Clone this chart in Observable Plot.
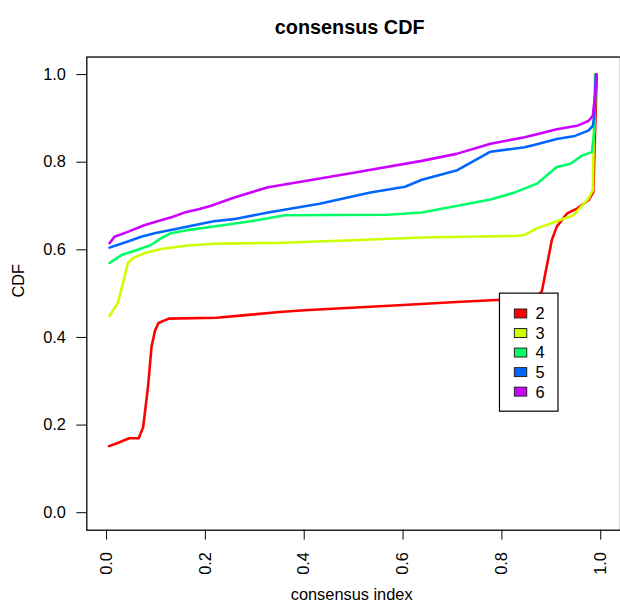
<!DOCTYPE html>
<html>
<head>
<meta charset="utf-8">
<script src="https://cdn.jsdelivr.net/npm/d3@7"></script>
<script src="https://cdn.jsdelivr.net/npm/@observablehq/plot@0.6"></script>
<style>
  html, body { margin: 0; padding: 0; background: #fff; overflow: hidden; }
  #chart { width: 620px; height: 614px; overflow: hidden; }
</style>
</head>
<body>
<div id="chart"></div>
<script>
// ---- data ----
const ks = ["2", "3", "4", "5", "6"];
const colors = ["#FF0000", "#CCFF00", "#00FF66", "#0066FF", "#CC00FF"];
const xTicks = [0, 0.2, 0.4, 0.6, 0.8, 1.0];
const yTicks = [0, 0.2, 0.4, 0.6, 0.8, 1.0];

const cdf2 = [[0.005,0.152],[0.02,0.158],[0.046,0.170],[0.065,0.170],[0.074,0.195],[0.084,0.289],[0.091,0.379],[0.098,0.415],[0.105,0.433],[0.126,0.443],[0.223,0.445],[0.292,0.452],[0.35,0.458],[0.40,0.462],[0.60,0.474],[0.708,0.481],[0.80,0.486],[0.87,0.490],[0.881,0.506],[0.901,0.622],[0.911,0.653],[0.932,0.683],[0.952,0.694],[0.975,0.713],[0.985,0.732],[0.992,1.0]];
const cdf3 = [[0.006,0.449],[0.023,0.479],[0.036,0.536],[0.043,0.570],[0.053,0.581],[0.076,0.592],[0.110,0.602],[0.164,0.610],[0.217,0.614],[0.354,0.616],[0.5,0.622],[0.638,0.628],[0.831,0.632],[0.846,0.634],[0.871,0.649],[0.911,0.665],[0.945,0.679],[0.975,0.717],[0.984,0.736],[0.988,1.0]];
const cdf4 = [[0.006,0.570],[0.030,0.588],[0.063,0.600],[0.090,0.611],[0.110,0.626],[0.130,0.638],[0.164,0.645],[0.217,0.653],[0.292,0.665],[0.361,0.679],[0.569,0.680],[0.638,0.685],[0.708,0.700],[0.777,0.715],[0.826,0.731],[0.871,0.751],[0.891,0.770],[0.911,0.789],[0.938,0.796],[0.962,0.815],[0.982,0.823],[0.987,0.870],[0.99,1.0]];
const cdf5 = [[0.006,0.605],[0.043,0.619],[0.070,0.630],[0.097,0.638],[0.130,0.645],[0.177,0.656],[0.217,0.665],[0.257,0.670],[0.327,0.685],[0.431,0.705],[0.534,0.731],[0.604,0.744],[0.638,0.760],[0.708,0.781],[0.777,0.824],[0.846,0.834],[0.871,0.841],[0.911,0.853],[0.948,0.860],[0.975,0.872],[0.984,0.883],[0.987,0.906],[0.99,1.0]];
const cdf6 = [[0.006,0.615],[0.016,0.630],[0.043,0.641],[0.076,0.656],[0.103,0.665],[0.133,0.675],[0.16,0.686],[0.188,0.693],[0.21,0.700],[0.257,0.719],[0.327,0.743],[0.417,0.760],[0.5,0.776],[0.638,0.803],[0.708,0.819],[0.777,0.842],[0.846,0.857],[0.871,0.864],[0.911,0.875],[0.952,0.883],[0.975,0.894],[0.984,0.906],[0.989,0.958],[0.992,1.0]];

const series = [cdf2, cdf3, cdf4, cdf5, cdf6];
const rows = series.flatMap((s, i) => s.map(([x, y]) => ({k: ks[i], x, y})));

const font = "'Liberation Sans', Arial, Helvetica, sans-serif";

const svg = Plot.plot({
  width: 625,
  height: 614,
  marginLeft: 87,
  marginRight: 0,
  marginTop: 57,
  marginBottom: 80,
  style: {fontFamily: font, fontSize: "16.5px", color: "#000", background: "#fff"},
  x: {domain: [-0.04, 1.04], ticks: xTicks, tickFormat: d => d.toFixed(1), tickSize: 10, tickPadding: 12, tickRotate: -90, label: null},
  y: {domain: [-0.04, 1.04], ticks: yTicks, tickFormat: d => d.toFixed(1), tickSize: 10, tickPadding: 11, label: null},
  color: {domain: ks, range: colors},
  marks: [
    Plot.line(rows, {x: "x", y: "y", z: "k", stroke: "k", strokeWidth: 2.6, strokeLinejoin: "round"}),
    Plot.frame({stroke: "#000", strokeWidth: 1.3}),
    Plot.text(["consensus CDF"], {frameAnchor: "top", text: d => d, dy: -37, dx: -4, fontWeight: "bold", fontSize: 20}),
    Plot.text(["consensus index"], {frameAnchor: "bottom", text: d => d, dy: 70, dx: -2, fontSize: 16.5}),
    Plot.text(["CDF"], {frameAnchor: "left", text: d => d, dx: -69, dy: 4, rotate: -90, fontSize: 16.5})
  ]
});

// ---- legend (drawn over the lines, like R's legend box) ----
const g = d3.select(svg).append("g").attr("font-family", font).attr("font-size", 16.5);
g.append("rect").attr("x", 503.5).attr("y", 295.5).attr("width", 59).attr("height", 119)
  .attr("fill", "#fff").attr("stroke", "#000").attr("stroke-width", 1.2);
ks.forEach((k, i) => {
  const cy = 316 + i * 19.7;
  g.append("rect").attr("x", 518.5).attr("y", cy - 4.5).attr("width", 12.5).attr("height", 9)
    .attr("fill", colors[i]).attr("stroke", "#222").attr("stroke-width", 1);
  g.append("text").attr("x", 544.5).attr("y", cy + 6).attr("fill", "#000").text(k);
});

document.getElementById("chart").appendChild(svg);
</script>
</body>
</html>
